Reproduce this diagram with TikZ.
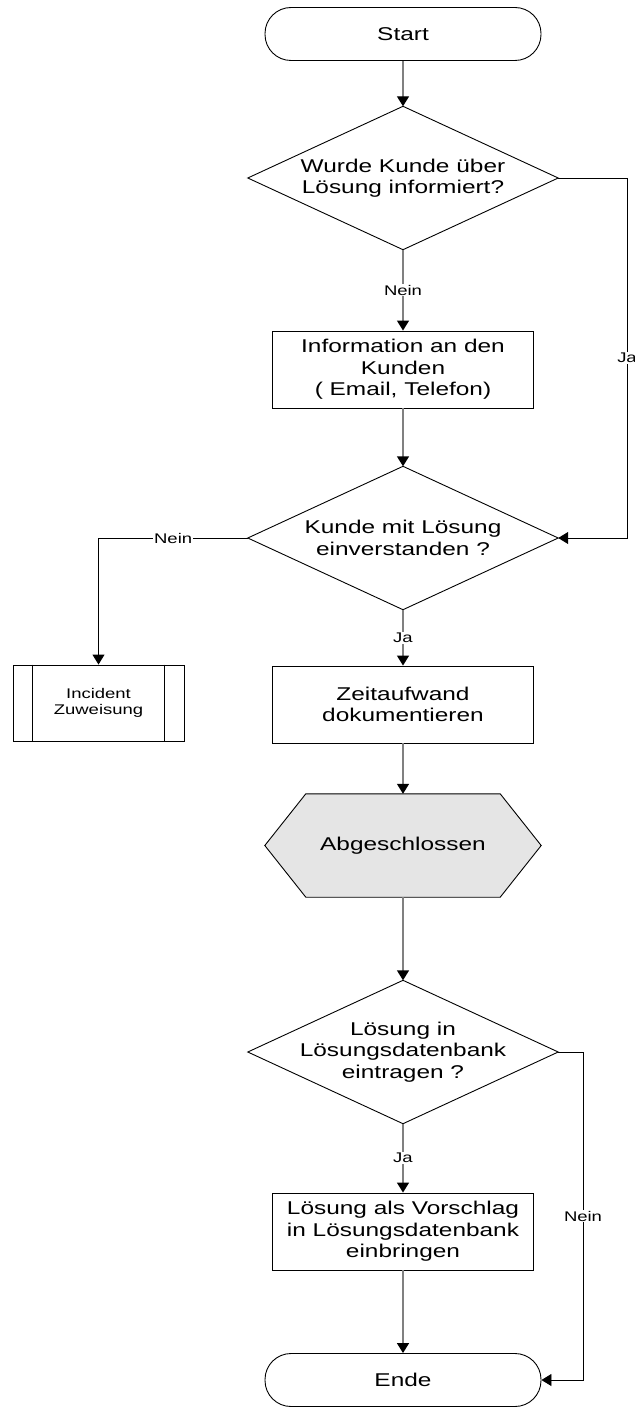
\documentclass[tikz,border=0pt]{standalone}
\usepackage{fontspec}
\setmainfont{Liberation Sans}[FakeStretch=1.32]
\usetikzlibrary{arrows.meta,backgrounds}

\tikzset{
	txt/.style={font=\fontsize{18.5}{21.5}\selectfont, align=center},
	lbl/.style={font=\fontsize{14}{16}\selectfont, fill=white, inner sep=1pt},
	term/.style={txt, draw, line width=0.9pt, rounded corners=26pt, minimum width=276pt, minimum height=53pt},
	act/.style={txt, draw, line width=0.9pt, minimum width=261pt, minimum height=77pt, inner sep=2pt},
	ask/.style={txt, minimum width=310pt, minimum height=143pt, inner sep=0pt},
	edge/.style={draw=black, line width=0.9pt},
	flow/.style={draw=gray, line width=1.4pt, -{Triangle[width=12pt, length=10pt, color=black]}},
	branch/.style={draw=black, line width=0.9pt, -{Triangle[width=12pt, length=10pt, color=black]}}
}

\begin{document}
\begin{tikzpicture}[x=1pt, y=-1pt]
		\useasboundingbox ( 0, 0 ) rectangle ( 634, 1407 );

		% начало
		\node [term] (start) at ( 403, 34 ) {Start};

		% вопрос 1
		\node [ask] (q1) at ( 403, 178 ) {Wurde Kunde über\\Lösung informiert?};
		\draw [edge] (q1.north) -- (q1.east) -- (q1.south) -- (q1.west) -- cycle;

		% информация клиенту
		\node [act] (info) at ( 403, 369.5 ) {Information an den\\Kunden\\( Email, Telefon)};

		% вопрос 2
		\node [ask] (q2) at ( 403, 538 ) {Kunde mit Lösung\\einverstanden ?};
		\draw [edge] (q2.north) -- (q2.east) -- (q2.south) -- (q2.west) -- cycle;

		% подпроцесс
		\node [act, font=\fontsize{14}{16}\selectfont, minimum width=171pt, minimum height=76pt] (inc) at ( 98.5, 703 ) {Incident\\Zuweisung};
		\draw [edge] ([xshift=20pt]inc.north west) -- ([xshift=20pt]inc.south west);
		\draw [edge] ([xshift=-20pt]inc.north east) -- ([xshift=-20pt]inc.south east);

		% документирование
		\node [act] (doc) at ( 403, 704.5 ) {Zeitaufwand\\dokumentieren};

		% завершено
		\node [txt, minimum width=276pt, minimum height=103pt] (done) at ( 403, 845.5 ) {Abgeschlossen};
		\begin{pgfonlayer}{background}
			\draw [edge, fill=gray!20] (done.west) -- ([xshift=41pt]done.north west) -- ([xshift=-41pt]done.north east) -- (done.east) -- ([xshift=-41pt]done.south east) -- ([xshift=41pt]done.south west) -- cycle;
		\end{pgfonlayer}

		% вопрос 3
		\node [ask] (q3) at ( 403, 1052 ) {Lösung in\\Lösungsdatenbank\\eintragen ?};
		\draw [edge] (q3.north) -- (q3.east) -- (q3.south) -- (q3.west) -- cycle;

		% предложение
		\node [act] (prop) at ( 403, 1231.5 ) {Lösung als Vorschlag\\in Lösungsdatenbank\\einbringen};

		% конец
		\node [term] (ende) at ( 403, 1380 ) {Ende};

		% связи
		\coordinate (jaturn) at ( 627, 178 );
		\coordinate (neinturn) at ( 583, 1052 );
		\draw [flow] (start.south) -- (q1.north);
		\draw [flow] (q1.south) -- node [lbl] {Nein} (info.north);
		\draw [branch] (q1.east) -- (jaturn) |- node [lbl, pos=0.25] {Ja} (q2.east);
		\draw [flow] (info.south) -- (q2.north);
		\draw [branch] (q2.west) -| node [lbl, pos=0.25] {Nein} (inc.north);
		\draw [flow] (q2.south) -- node [lbl] {Ja} (doc.north);
		\draw [flow] (doc.south) -- (done.north);
		\draw [flow] (done.south) -- (q3.north);
		\draw [flow] (q3.south) -- node [lbl] {Ja} (prop.north);
		\draw [branch] (q3.east) -- (neinturn) |- node [lbl, pos=0.25] {Nein} (ende.east);
		\draw [flow] (prop.south) -- (ende.north);
	\end{tikzpicture}
\end{document}
